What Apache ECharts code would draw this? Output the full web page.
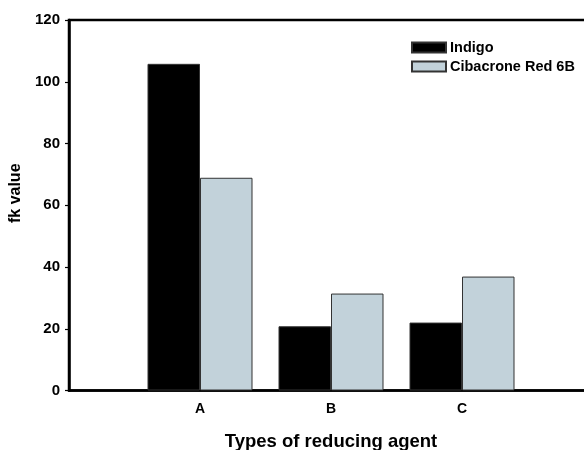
<!DOCTYPE html>
<html>
<head>
<meta charset="utf-8">
<script src="https://cdn.jsdelivr.net/npm/echarts@6/dist/echarts.min.js"></script>
<style>
  html, body { margin: 0; padding: 0; background: #fff; }
  #chart { width: 584px; height: 450px; }
</style>
</head>
<body>
<div id="chart"></div>
<script>
// fk values per reducing agent, for each dye
const categories = ['A', 'B', 'C'];
const seriesNames = ['Indigo', 'Cibacrone Red 6B'];
const indigo = [105.8, 20.8, 22.0];
const cibacroneRed = [68.9, 31.4, 36.9];
const yTicks = [0, 20, 40, 60, 80, 100, 120];

// Pad the category axis with empty slots on each side so the groups sit inward
const axisCats = [''].concat(categories, ['']);
const pad = (arr) => [null].concat(arr, [null]);

const FONT = '"Liberation Sans", Arial, sans-serif';

const chart = echarts.init(document.getElementById('chart'), null, { renderer: 'canvas' });
chart.setOption({
  animation: false,
  backgroundColor: '#ffffff',
  textStyle: { fontFamily: FONT },
  grid: {
    left: 69, top: 20, width: 524, height: 370.5,
    containLabel: false,
    outerBoundsMode: 'none',
    show: true, borderColor: '#000', borderWidth: 2.5, backgroundColor: 'transparent'
  },
  legend: {
    orient: 'vertical',
    left: 406, top: 35,
    itemWidth: 34, itemHeight: 10, itemGap: 4,
    icon: 'rect',
    textStyle: { fontFamily: FONT, fontWeight: 'bold', fontSize: 14.5, color: '#000', padding: [0, 0, 0, -1] },
    data: seriesNames
  },
  xAxis: {
    type: 'category',
    data: axisCats,
    boundaryGap: false,
    axisLine: { lineStyle: { color: '#000', width: 2.5 } },
    axisTick: { show: false },
    axisLabel: { interval: 0, margin: 12, color: '#000', fontWeight: 'bold', fontSize: 14, fontFamily: FONT },
    splitLine: { show: false },
    name: 'Types of reducing agent',
    nameLocation: 'middle',
    nameGap: 42,
    nameTextStyle: { color: '#000', fontWeight: 'bold', fontSize: 18.5, fontFamily: FONT }
  },
  yAxis: {
    type: 'value',
    min: yTicks[0], max: yTicks[yTicks.length - 1], interval: 20,
    axisLine: { show: true, lineStyle: { color: '#000', width: 2.5 } },
    axisTick: { show: true, inside: false, length: 4, lineStyle: { color: '#000', width: 1.2 } },
    axisLabel: { margin: 9, color: '#000', fontWeight: 'bold', fontSize: 15, fontFamily: FONT },
    splitLine: { show: false },
    name: 'fk value',
    nameLocation: 'middle',
    nameGap: 43,
    nameRotate: 90,
    nameTextStyle: { color: '#000', fontWeight: 'bold', fontSize: 16, fontFamily: FONT, padding: [0, 0, 0, 24] }
  },
  series: [
    {
      name: seriesNames[0], type: 'bar', data: pad(indigo),
      barWidth: 52.5, barGap: '0%',
      itemStyle: { color: '#000', borderColor: '#333', borderWidth: 1 }
    },
    {
      name: seriesNames[1], type: 'bar', data: pad(cibacroneRed),
      barWidth: 52.5, barGap: '0%',
      itemStyle: { color: '#c2d2da', borderColor: '#333', borderWidth: 1 }
    }
  ]
});
</script>
</body>
</html>
